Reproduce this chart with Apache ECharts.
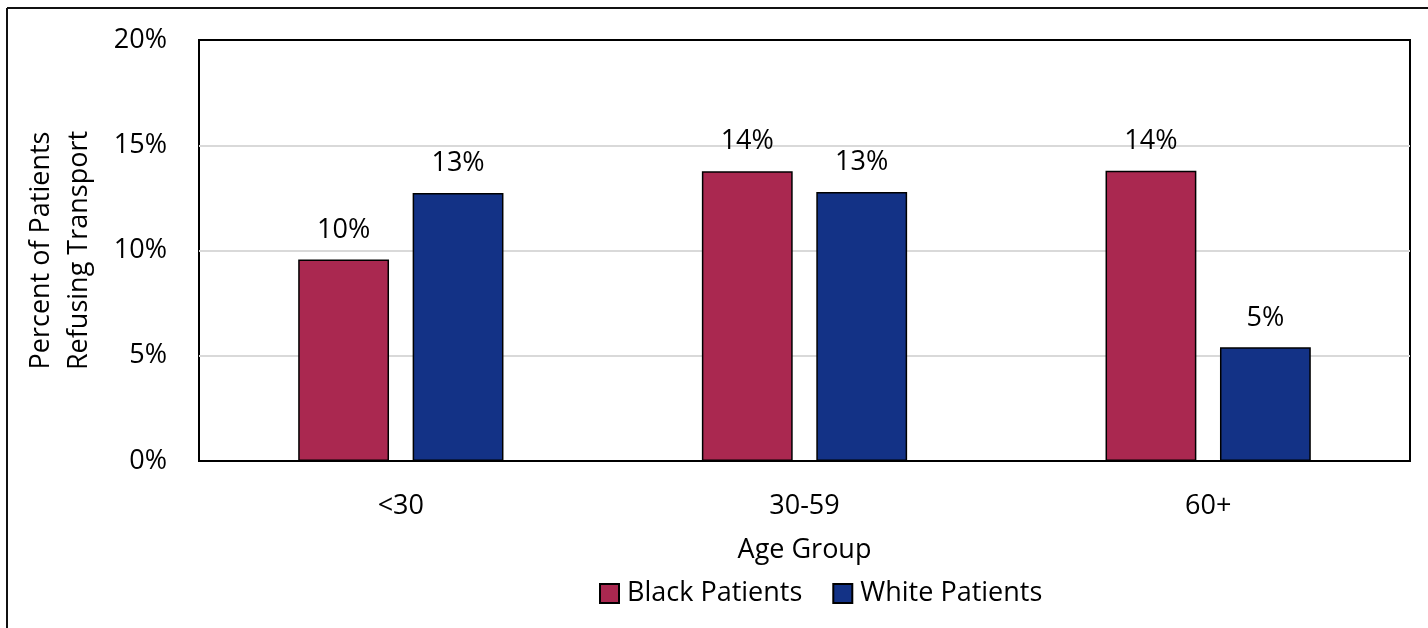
<!DOCTYPE html>
<html>
<head>
<meta charset="utf-8">
<script src="https://cdn.jsdelivr.net/npm/echarts@6/dist/echarts.min.js"></script>
<style>
  html, body { margin: 0; padding: 0; background: #fff; }
  #chart { width: 1428px; height: 628px; }
</style>
</head>
<body>
<div id="chart"></div>
<script>
// Share of patients refusing transport, by age group and race
const ageGroups = ['<30', '30-59', '60+'];
const blackPatients = [9.57, 13.77, 13.79];
const whitePatients = [12.73, 12.78, 5.40];
const yTicks = [0, 5, 10, 15, 20];

const FONT = '"Open Sans", sans-serif';
const FS = 27;
const chart = echarts.init(document.getElementById('chart'));

const barLabel = {
  show: true,
  position: 'top',
  distance: 16,
  color: '#000',
  fontFamily: FONT,
  fontSize: FS,
  formatter: p => Math.round(p.value) + '%'
};

chart.setOption({
  animation: false,
  backgroundColor: '#fff',
  textStyle: { fontFamily: FONT },
  graphic: [
    { type: 'line', shape: { x1: 7, y1: 8, x2: 1428, y2: 8 }, style: { stroke: '#111', lineWidth: 2 } },
    { type: 'line', shape: { x1: 7, y1: 8, x2: 7, y2: 628 }, style: { stroke: '#111', lineWidth: 2 } }
  ],
  grid: {
    left: 199, right: 18, top: 40, bottom: 167,
    outerBoundsMode: 'none',
    containLabel: false,
    show: true, borderColor: '#000', borderWidth: 2, backgroundColor: 'transparent'
  },
  legend: {
    bottom: 16,
    left: 594,
    itemWidth: 19,
    itemHeight: 19,
    itemGap: 30,
    icon: 'rect',
    textStyle: { fontFamily: FONT, fontSize: FS, color: '#000', padding: [0, 0, 0, 3] },
    data: ['Black Patients', 'White Patients']
  },
  xAxis: {
    type: 'category',
    data: ageGroups,
    name: 'Age Group',
    nameLocation: 'middle',
    nameGap: 76,
    nameTextStyle: { fontFamily: FONT, fontSize: FS, color: '#000' },
    axisLine: { lineStyle: { color: '#000', width: 2 } },
    axisTick: { show: false },
    axisLabel: { fontFamily: FONT, fontSize: FS, color: '#000', margin: 32 }
  },
  yAxis: {
    type: 'value',
    min: yTicks[0],
    max: yTicks[yTicks.length - 1],
    interval: 5,
    name: 'Percent of Patients\nRefusing Transport',
    nameLocation: 'middle',
    nameGap: 101,
    nameRotate: 90,
    nameTextStyle: { fontFamily: FONT, fontSize: FS, color: '#000', lineHeight: 38 },
    axisLine: { show: false },
    axisTick: { show: false },
    axisLabel: { fontFamily: FONT, fontSize: FS, color: '#000', margin: 32, formatter: v => v + '%' },
    splitLine: { showMinLine: false, showMaxLine: false, lineStyle: { color: '#d9d9d9', width: 2 } }
  },
  series: [
    {
      name: 'Black Patients',
      type: 'bar',
      data: blackPatients,
      barWidth: '22.5%',
      barGap: '26%',
      itemStyle: { color: '#AA2850', borderColor: '#000', borderWidth: 1.5 },
      label: barLabel
    },
    {
      name: 'White Patients',
      type: 'bar',
      data: whitePatients,
      barWidth: '22.5%',
      barGap: '26%',
      itemStyle: { color: '#133286', borderColor: '#000', borderWidth: 1.5 },
      label: barLabel
    }
  ]
});
</script>
</body>
</html>
